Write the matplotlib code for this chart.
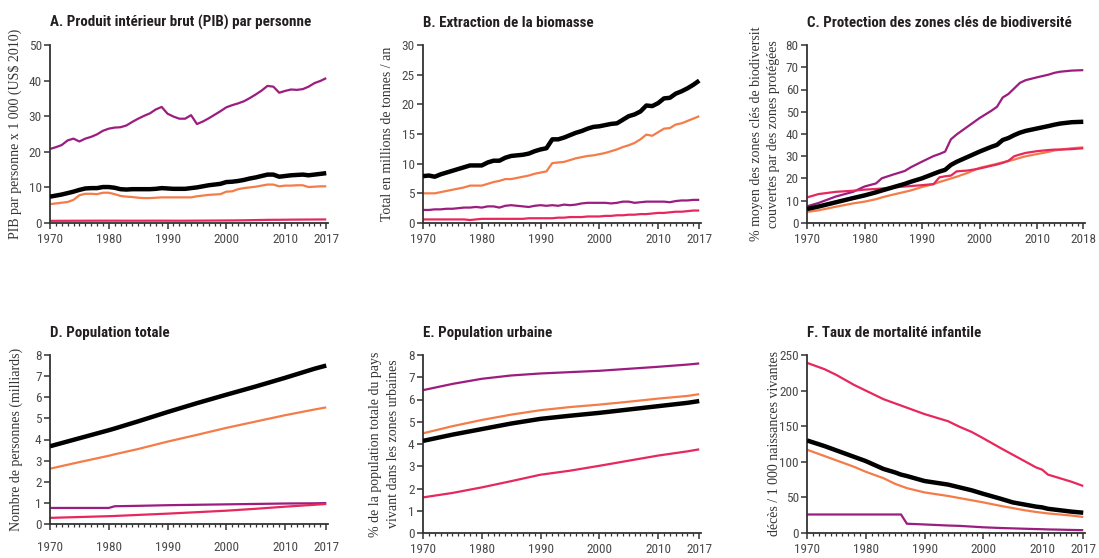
import numpy as np
import matplotlib
matplotlib.use('Agg')
import matplotlib.pyplot as plt
from matplotlib import font_manager
from matplotlib.font_manager import FontProperties
from matplotlib.ticker import MultipleLocator

# ---- data ----
# A. PIB par personne (x 1000 US$ 2010), yearly 1970-2017
a_years = list(range(1970, 2018))
a_purple = [20.8, 21.3, 21.9, 23.2, 23.7, 22.9, 23.7, 24.2, 24.9, 25.9,
            26.5, 26.8, 26.9, 27.4, 28.4, 29.3, 30.1, 30.8, 31.9, 32.6,
            30.7, 29.9, 29.3, 29.3, 30.3, 27.8, 28.5, 29.4, 30.4, 31.4,
            32.5, 33.1, 33.6, 34.2, 35.1, 36.1, 37.2, 38.5, 38.3, 36.6,
            37.1, 37.5, 37.4, 37.6, 38.3, 39.3, 39.9, 40.7]
a_black = [7.4, 7.7, 8.0, 8.4, 8.8, 9.3, 9.7, 9.8, 9.8, 10.1,
           10.1, 9.9, 9.5, 9.4, 9.5, 9.5, 9.5, 9.5, 9.6, 9.8,
           9.7, 9.6, 9.6, 9.6, 9.8, 10.0, 10.3, 10.6, 10.8, 11.0,
           11.5, 11.6, 11.8, 12.1, 12.5, 12.8, 13.2, 13.6, 13.6, 13.0,
           13.2, 13.4, 13.5, 13.6, 13.4, 13.6, 13.8, 14.0]
a_orange = [5.3, 5.5, 5.7, 5.9, 6.5, 7.8, 8.2, 8.2, 8.1, 8.5,
            8.5, 8.1, 7.6, 7.4, 7.3, 7.1, 7.0, 7.0, 7.1, 7.2,
            7.2, 7.2, 7.2, 7.2, 7.2, 7.5, 7.7, 7.9, 8.0, 8.1,
            8.8, 8.9, 9.5, 9.8, 10.0, 10.2, 10.5, 10.8, 10.8, 10.3,
            10.5, 10.5, 10.6, 10.6, 10.1, 10.2, 10.3, 10.3]
a_pink = [0.60, 0.61, 0.62, 0.62, 0.63, 0.63, 0.64, 0.64, 0.65, 0.65,
          0.65, 0.65, 0.64, 0.64, 0.64, 0.64, 0.64, 0.65, 0.65, 0.65,
          0.65, 0.64, 0.64, 0.64, 0.65, 0.66, 0.67, 0.68, 0.69, 0.70,
          0.71, 0.72, 0.74, 0.76, 0.79, 0.82, 0.85, 0.88, 0.90, 0.90,
          0.92, 0.94, 0.95, 0.96, 0.97, 0.98, 0.99, 1.00]

# B. Extraction de la biomasse (millions de tonnes / an), yearly 1970-2017
b_years = list(range(1970, 2018))
b_black = [7.9, 8.0, 7.8, 8.2, 8.5, 8.8, 9.1, 9.4, 9.7, 9.7,
           9.7, 10.2, 10.5, 10.5, 11.0, 11.3, 11.4, 11.5, 11.7, 12.1,
           12.4, 12.6, 14.1, 14.1, 14.4, 14.8, 15.2, 15.5, 15.9, 16.2,
           16.3, 16.5, 16.7, 16.8, 17.4, 18.0, 18.3, 18.8, 19.8, 19.7,
           20.2, 21.0, 21.1, 21.8, 22.2, 22.7, 23.3, 24.0]
b_orange = [5.0, 5.0, 5.0, 5.2, 5.4, 5.6, 5.8, 6.0, 6.3, 6.3,
            6.3, 6.6, 6.9, 7.1, 7.4, 7.4, 7.6, 7.8, 8.0, 8.3,
            8.5, 8.7, 10.1, 10.2, 10.3, 10.6, 10.9, 11.1, 11.3, 11.4,
            11.6, 11.8, 12.1, 12.4, 12.8, 13.1, 13.5, 14.1, 14.9, 14.7,
            15.3, 15.9, 16.0, 16.6, 16.8, 17.2, 17.6, 18.0]
b_purple = [2.2, 2.2, 2.3, 2.3, 2.4, 2.4, 2.5, 2.6, 2.6, 2.7,
            2.6, 2.8, 2.8, 2.6, 2.9, 3.0, 2.9, 2.8, 2.7, 2.9,
            3.0, 2.9, 3.0, 2.9, 3.1, 3.0, 3.1, 3.3, 3.4, 3.4,
            3.4, 3.4, 3.3, 3.4, 3.6, 3.6, 3.4, 3.5, 3.6, 3.6,
            3.6, 3.6, 3.5, 3.7, 3.8, 3.8, 3.9, 3.9]
b_pink = [0.6, 0.6, 0.6, 0.6, 0.6, 0.6, 0.6, 0.6, 0.5, 0.6,
          0.7, 0.7, 0.7, 0.7, 0.7, 0.7, 0.7, 0.7, 0.8, 0.8,
          0.8, 0.8, 0.8, 0.9, 0.9, 1.0, 1.0, 1.0, 1.1, 1.1,
          1.1, 1.2, 1.2, 1.3, 1.3, 1.4, 1.4, 1.5, 1.5, 1.6,
          1.7, 1.7, 1.8, 1.9, 1.9, 2.0, 2.1, 2.1]

# C. Protection des zones clés de biodiversité (%)
c_years = [1970, 1972, 1975, 1978, 1980, 1982, 1983, 1985, 1987, 1988,
           1990, 1992, 1993, 1994, 1995, 1996, 1998, 2000, 2002, 2003,
           2004, 2005, 2006, 2007, 2008, 2010, 2012, 2013, 2014, 2016, 2018]
c_purple = [7.5, 9.0, 11.9, 14.0, 16.4, 17.8, 20.1, 21.8, 23.4, 25.0,
            27.6, 30.1, 31.0, 32.1, 37.6, 39.8, 43.5, 47.2, 50.4, 52.2,
            56.4, 58.0, 60.5, 63.0, 64.2, 65.5, 66.7, 67.5, 68.0, 68.5, 68.7]
c_black = [6.3, 7.4, 9.3, 11.2, 12.4, 13.8, 14.6, 16.1, 17.6, 18.5,
           20.1, 22.1, 23.1, 23.9, 26.1, 27.5, 29.8, 32.1, 34.2, 35.1,
           37.3, 38.2, 39.5, 40.6, 41.4, 42.5, 43.6, 44.2, 44.7, 45.3, 45.5]
c_orange = [5.0, 5.7, 7.3, 8.8, 9.6, 10.7, 11.5, 12.8, 14.0, 14.6,
            16.2, 17.5, 18.4, 19.2, 20.0, 20.8, 22.6, 24.8, 26.0, 26.6,
            27.3, 27.8, 28.5, 29.3, 30.0, 31.0, 32.0, 32.6, 33.0, 33.6, 34.0]
c_pink = [11.5, 13.0, 14.0, 14.5, 15.0, 15.3, 15.5, 16.0, 16.4, 16.6,
          17.0, 17.5, 20.5, 21.0, 21.3, 23.2, 23.6, 24.5, 25.7, 26.3,
          27.0, 28.0, 30.0, 30.8, 31.5, 32.3, 32.8, 33.0, 33.0, 33.2, 33.6]

# D. Population totale (milliards)
d_years = [1970, 1975, 1980, 1981, 1985, 1990, 1995, 2000, 2005, 2010, 2015, 2017]
d_black = [3.68, 4.06, 4.44, 4.52, 4.86, 5.30, 5.72, 6.12, 6.51, 6.92, 7.35, 7.50]
d_orange = [2.62, 2.93, 3.23, 3.30, 3.55, 3.90, 4.22, 4.55, 4.85, 5.15, 5.42, 5.52]
d_purple = [0.76, 0.76, 0.76, 0.84, 0.86, 0.89, 0.91, 0.93, 0.95, 0.97, 0.98, 0.99]
d_pink = [0.29, 0.33, 0.37, 0.38, 0.43, 0.49, 0.56, 0.63, 0.72, 0.82, 0.91, 0.95]

# E. Population urbaine
e_years = [1970, 1975, 1980, 1985, 1990, 1995, 2000, 2005, 2010, 2015, 2017]
e_purple = [6.42, 6.70, 6.93, 7.08, 7.17, 7.23, 7.29, 7.38, 7.47, 7.57, 7.62]
e_orange = [4.48, 4.80, 5.08, 5.32, 5.52, 5.66, 5.77, 5.90, 6.04, 6.16, 6.24]
e_black = [4.14, 4.42, 4.67, 4.92, 5.13, 5.27, 5.40, 5.55, 5.70, 5.85, 5.93]
e_pink = [1.60, 1.80, 2.05, 2.33, 2.62, 2.80, 3.02, 3.25, 3.48, 3.67, 3.76]

# F. Taux de mortalité infantile (décès / 1000 naissances vivantes)
f_years = [1970, 1973, 1975, 1978, 1980, 1983, 1985, 1986, 1987, 1990,
           1994, 1996, 1998, 2000, 2003, 2005, 2007, 2009, 2010, 2011,
           2013, 2015, 2017]
f_pink = [239, 230, 222, 208, 200, 188, 182, 179, 176, 167,
          157, 149, 142, 133, 119, 110, 101, 92, 89, 82, 77, 72, 66]
f_black = [130, 122, 116, 107, 101, 90, 85, 82, 80, 73,
           68, 64, 60, 55, 48, 43, 40, 37, 36, 34, 32, 30, 28.5]
f_orange = [117, 108, 102, 93, 86, 77, 69, 66, 63, 57,
            52, 49, 46, 43, 38, 35, 32, 29.5, 28.5, 27.5, 26, 24.5, 22.5]
f_purple = [26, 26, 26, 26, 26, 26, 26, 26, 13, 12,
            10.5, 10, 9, 8, 7, 6.5, 6, 5.5, 5.3, 5, 4.7, 4.3, 4.0]

PURPLE = '#9b1d7f'
PINK = '#e6285d'
ORANGE = '#f47c48'
BLACK = '#000000'
AXIS = '#333333'


def pick_condensed(bold):
    # look for a condensed / narrow face installed on the system
    prefs = ['roboto', 'liberation', 'noto sans', 'dejavu', 'open sans']
    found = []
    for f in font_manager.fontManager.ttflist:
        txt = (f.name + ' ' + str(f.stretch)).lower()
        if 'condensed' not in txt and 'narrow' not in txt:
            continue
        if any(s in txt for s in ('semi', 'extra', 'ultra')) or f.style != 'normal':
            continue
        w = f.weight if isinstance(f.weight, int) else font_manager.weight_dict.get(f.weight, 400)
        if bold and not (600 <= w <= 750):
            continue
        if not bold and w != 400:
            continue
        rank = next((i for i, p in enumerate(prefs) if f.name.lower().startswith(p)), 99)
        found.append((rank, f.fname))
    if found:
        return sorted(found)[0][1]
    return None


bold_file = pick_condensed(True)
reg_file = pick_condensed(False)
if bold_file:
    title_fp = FontProperties(fname=bold_file, size=10.8)
else:
    title_fp = FontProperties(family='DejaVu Sans', weight='bold', size=9.5)
if reg_file:
    tick_fp = FontProperties(fname=reg_file, size=9.5)
else:
    tick_fp = FontProperties(family='DejaVu Sans', size=8)
label_fp = FontProperties(family=['Liberation Serif', 'DejaVu Serif'], size=10)

W, H = 1099, 558
fig = plt.figure(figsize=(W / 100, H / 100), dpi=100)

# x, y (from top), width, height in pixels
panels = [
    dict(rect=(50, 45, 278, 178), title='A. Produit intérieur brut (PIB) par personne',
         ylabel='PIB par personne x 1 000 (US$ 2010)', years=a_years,
         lines=[(a_purple, PURPLE), (a_orange, ORANGE), (a_pink, PINK), (a_black, BLACK)],
         ymax=50, ystep=10, last=2017, labx=-0.10, xpad=3),
    dict(rect=(423, 45, 278, 178), title='B. Extraction de la biomasse',
         ylabel='Total en millions de tonnes / an', years=b_years,
         lines=[(b_purple, PURPLE), (b_orange, ORANGE), (b_pink, PINK), (b_black, BLACK)],
         ymax=30, ystep=5, last=2017, labx=-0.105, xpad=3),
    dict(rect=(807, 45, 278, 178), title='C. Protection des zones clés de biodiversité',
         ylabel='% moyen des zones clés de biodiversit\ncouvertes par des zones protégées',
         years=c_years,
         lines=[(c_purple, PURPLE), (c_orange, ORANGE), (c_pink, PINK), (c_black, BLACK)],
         ymax=80, ystep=10, last=2018, labx=-0.096, xpad=3),
    dict(rect=(50, 355, 278, 169), title='D. Population totale',
         ylabel='Nombre de personnes (milliards)', years=d_years,
         lines=[(d_purple, PURPLE), (d_orange, ORANGE), (d_pink, PINK), (d_black, BLACK)],
         ymax=8, ystep=1, last=2017, labx=-0.098, xpad=8),
    dict(rect=(423, 355, 278, 178), title='E. Population urbaine',
         ylabel='% de la population totale du pays\nvivant dans les zones urbaines', years=e_years,
         lines=[(e_purple, PURPLE), (e_orange, ORANGE), (e_pink, PINK), (e_black, BLACK)],
         ymax=8, ystep=1, last=2017, labx=-0.083, xpad=3),
    dict(rect=(807, 355, 278, 178), title='F. Taux de mortalité infantile',
         ylabel='décès / 1 000 naissances vivantes', years=f_years,
         lines=[(f_purple, PURPLE), (f_orange, ORANGE), (f_pink, PINK), (f_black, BLACK)],
         ymax=250, ystep=50, last=2017, labx=-0.093, xpad=3),
]

for p in panels:
    x, y, w, h = p['rect']
    ax = fig.add_axes([x / W, 1 - (y + h) / H, w / W, h / H])

    for vals, col in p['lines']:
        lw = 3.2 if col == BLACK else 1.6
        ax.plot(p['years'], vals, color=col, lw=lw, solid_joinstyle='round',
                solid_capstyle='butt', zorder=3 if col == BLACK else 2)

    ax.set_xlim(1970, p['last'] + 0.3)
    ax.set_ylim(0, p['ymax'])

    xt = [1970, 1980, 1990, 2000, 2010, p['last']]
    ax.set_xticks(xt, [str(t) for t in xt], fontproperties=tick_fp, color='#4a4a4a')
    ax.xaxis.set_minor_locator(MultipleLocator(1))
    yt = np.arange(0, p['ymax'] + p['ystep'], p['ystep'])
    ax.set_yticks(yt, [str(int(t)) for t in yt], fontproperties=tick_fp, color='#4a4a4a')

    ax.tick_params(axis='x', which='major', direction='out', length=4.5, width=1.1,
                   color=AXIS, pad=p['xpad'])
    ax.tick_params(axis='x', which='minor', direction='out', length=2.5, width=0.9, color=AXIS)
    ax.tick_params(axis='y', which='major', direction='out', length=4, width=1.1,
                   color=AXIS, pad=2)

    for s in ['top', 'right']:
        ax.spines[s].set_visible(False)
    for s in ['left', 'bottom']:
        ax.spines[s].set_color(AXIS)
        ax.spines[s].set_linewidth(1.3)

    ax.set_ylabel(p['ylabel'], fontproperties=label_fp, color='#333333', linespacing=1.45)
    ax.yaxis.set_label_coords(p['labx'], 0.5)
    ax.set_title(p['title'], loc='left', pad=13, fontproperties=title_fp, color='#231f20')
    ax.patch.set_alpha(0)

fig.savefig('out.png', dpi=100)
